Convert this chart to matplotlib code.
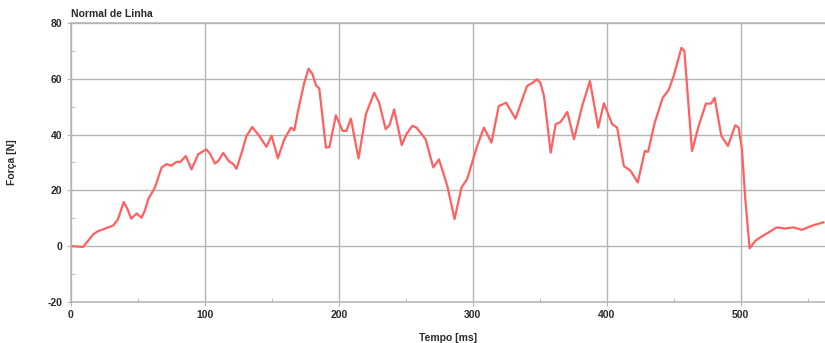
import matplotlib
matplotlib.use('Agg')
import matplotlib.pyplot as plt
from matplotlib.ticker import MultipleLocator

plt.rcParams['axes.unicode_minus'] = False
plt.rcParams['font.family'] = ['Liberation Sans', 'DejaVu Sans']

# Dados (tempo em ms, força em N)
tempo = [0, 9, 13, 16.6, 20, 24, 31.6, 35, 39.4, 42, 45, 49, 52.7, 55, 57.7, 62.7, 67.7, 71.4,
         75, 78.8, 81.7, 85.8, 90, 95, 101, 104, 107.5, 110, 113.7, 118, 121, 123.6, 127.4,
         131, 135.3, 139.8, 146, 149.8, 154.5, 159.3, 164.3, 166.8, 169.3, 174.2, 177.4,
         180.4, 183, 185.4, 190.4, 193, 197.8, 202.8, 205.7, 209, 214.7, 220.2, 226.4, 230.1,
         235, 238, 241.3, 247, 250.4, 254.9, 258, 264.8, 270.5, 274.8, 281, 286.4, 291.6,
         295.8, 303.3, 308.3, 314, 319.4, 324.9, 331.9, 340.5, 344.2, 348, 350.5, 353.2,
         358.2, 361.9, 365.6, 370.6, 375.6, 381.7, 387.5, 393.7, 397.9, 404.1, 407.8, 412.8,
         417.8, 423.2, 428.5, 430.9, 435.9, 441.9, 446.3, 450, 455.8, 458, 463.7, 468.7,
         474.1, 477.9, 480.6, 485.6, 490.5, 496, 498.5, 501, 503.5, 506.7, 511, 515.9,
         520.9, 527, 533.2, 539.5, 545.7, 553.1, 561.8]
forca = [0, -0.3, 2.0, 4.2, 5.3, 6.0, 7.4, 9.5, 15.8, 13.5, 9.8, 11.7, 10.2, 12.5, 16.8, 21,
         28.2, 29.4, 28.8, 30.2, 30.2, 32.3, 27.5, 32.9, 34.7, 33.0, 29.6, 30.5, 33.4, 30.4,
         29.5, 27.7, 33.4, 39.4, 42.7, 40, 35.6, 39.6, 31.5, 38.3, 42.5, 41.5, 47.9, 58.6,
         63.6, 61.6, 57.6, 56.5, 35.3, 35.5, 46.9, 41.3, 41.3, 45.7, 31.4, 47.3, 55, 51.4,
         41.9, 43.5, 49, 36.2, 40.1, 43.1, 42.5, 38.3, 28.2, 31.1, 21.6, 9.7, 21, 24, 35.9,
         42.5, 37.1, 50.2, 51.4, 45.7, 57.4, 58.4, 59.8, 58.5, 53.8, 33.5, 43.7, 44.5, 48.1,
         38.3, 50.2, 59.2, 42.5, 51.2, 43.7, 42.5, 28.7, 27, 22.8, 34.1, 33.8, 44.3, 53.2,
         56, 61, 71.1, 70, 34.1, 43.1, 51.1, 51.1, 53.2, 39.5, 35.9, 43.3, 42.5, 34.7, 16.8,
         -0.8, 1.9, 3.5, 4.9, 6.7, 6.3, 6.7, 5.8, 7.3, 8.5]

cinza = '#b4b4b4'
texto = '#2a2a2a'

fig = plt.figure(figsize=(8.25, 3.43), dpi=100)
ax = fig.add_axes([0.086, 0.12, 0.914, 0.813])
ax.plot(tempo, forca, color='#ff6060', linewidth=1.6, solid_joinstyle='round')

ax.set_xlim(0, 563)
ax.set_ylim(-20, 80)
ax.xaxis.set_major_locator(MultipleLocator(100))
ax.xaxis.set_minor_locator(MultipleLocator(50))
ax.yaxis.set_major_locator(MultipleLocator(20))
ax.yaxis.set_minor_locator(MultipleLocator(10))
ax.grid(True, which='major', color=cinza, linewidth=1.0)
ax.tick_params(which='major', direction='out', length=3, color=cinza, labelsize=7.5,
               labelcolor=texto, pad=3)
ax.tick_params(which='minor', direction='in', length=3, color=cinza)
for lbl in ax.get_xticklabels() + ax.get_yticklabels():
    lbl.set_fontweight('bold')
for s in ['left', 'bottom', 'top']:
    ax.spines[s].set_color(cinza)
    ax.spines[s].set_linewidth(1.1)
ax.spines['right'].set_visible(False)

ax.set_xlabel('Tempo [ms]', fontsize=7.5, fontweight='bold', color=texto, labelpad=9)
ax.set_ylabel('Força [N]', fontsize=7.5, fontweight='bold', color=texto, labelpad=22)
ax.set_title('Normal de Linha', fontsize=7.5, fontweight='bold', color=texto, loc='left', pad=4)

fig.savefig('out.png', dpi=100)
